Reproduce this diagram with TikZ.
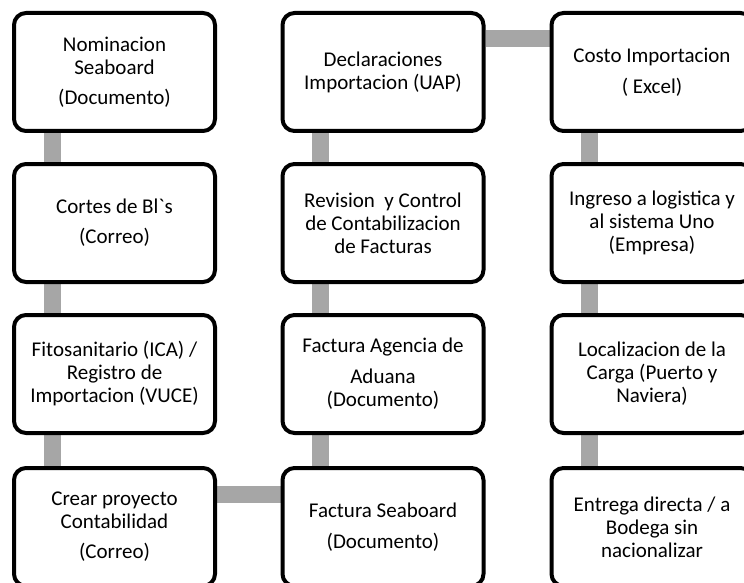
\documentclass[tikz,border=0pt]{standalone}
\usepackage{fontspec}
\setmainfont{Carlito}[Ligatures=TeXOff]
\usetikzlibrary{backgrounds}
\definecolor{barcol}{RGB}{166,166,166}
\tikzset{
  stepbox/.style={draw=black, line width=4pt, rounded corners=12pt, fill=white,
    minimum width=201pt, minimum height=118pt, inner sep=0pt, align=center,
    font=\fontsize{21}{23}\selectfont},
  bar/.style={draw=barcol, line width=17pt}
}
\begin{document}
\begin{tikzpicture}[x=1pt,y=-1pt]
      \useasboundingbox (0,0) rectangle (744,583);
      \draw
        (114.5,72) node[stepbox] (nom){Nominacion\\Seaboard\\[7pt](Documento)}
        (114.5,223) node[stepbox] (cortes){Cortes de Bl`s\\[7pt](Correo)}
        (114.5,374) node[stepbox] (fito){Fitosanitario (ICA) /\\Registro de\\Importacion (VUCE)}
        (114.5,527) node[stepbox] (crear){Crear proyecto\\Contabilidad\\[7pt](Correo)}
        (383,527) node[stepbox] (facsea){Factura Seaboard\\[8pt](Documento)}
        (383,374) node[stepbox] (facage){Factura Agencia de\\[8pt]Aduana\\(Documento)}
        (383,223) node[stepbox] (revision){Revision\ \ y Control\\de Contabilizacion\\de Facturas}
        (383,72) node[stepbox] (declar){Declaraciones\\Importacion (UAP)}
        (652,72) node[stepbox] (costo){Costo Importacion\\[8pt]( Excel)}
        (652,223) node[stepbox] (ingreso){Ingreso a logistica y\\al sistema Uno\\(Empresa)}
        (652,374) node[stepbox] (local){Localizacion de la\\Carga (Puerto y\\Naviera)}
        (652,527) node[stepbox] (entrega){Entrega directa / a\\Bodega sin\\nacionalizar};
      \begin{scope}[on background layer]
        \draw[bar] ([xshift=40pt]nom.south west) to ([xshift=40pt]cortes.north west);
        \draw[bar] ([xshift=40pt]cortes.south west) to ([xshift=40pt]fito.north west);
        \draw[bar] ([xshift=40pt]fito.south west) to ([xshift=40pt]crear.north west);
        \draw[bar] ([yshift=-28pt]crear.north east) to ([yshift=-28pt]facsea.north west);
        \draw[bar] ([xshift=40pt]facsea.north west) to ([xshift=40pt]facage.south west);
        \draw[bar] ([xshift=40pt]facage.north west) to ([xshift=40pt]revision.south west);
        \draw[bar] ([xshift=40pt]revision.north west) to ([xshift=40pt]declar.south west);
        \draw[bar] ([yshift=-28pt]declar.north east) to ([yshift=-28pt]costo.north west);
        \draw[bar] ([xshift=40pt]costo.south west) to ([xshift=40pt]ingreso.north west);
        \draw[bar] ([xshift=40pt]ingreso.south west) to ([xshift=40pt]local.north west);
        \draw[bar] ([xshift=40pt]local.south west) to ([xshift=40pt]entrega.north west);
      \end{scope}
    \end{tikzpicture}
\end{document}
